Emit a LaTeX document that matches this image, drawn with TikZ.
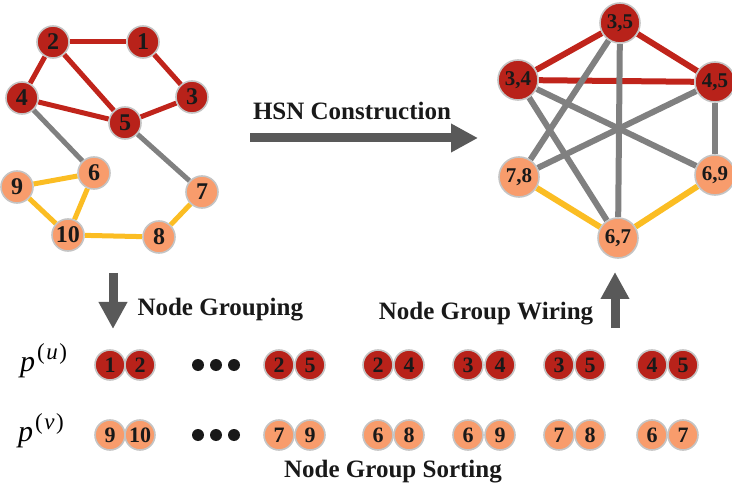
\documentclass[tikz,border=0pt]{standalone}
\usepackage{fontspec}
\setmainfont{Liberation Serif}
\usetikzlibrary{arrows.meta,backgrounds}
\definecolor{nodered}{HTML}{B8221A}
\definecolor{nodeorange}{HTML}{F89C6C}
\definecolor{ringgray}{HTML}{C4C4C4}
\definecolor{edgered}{HTML}{C0241B}
\definecolor{edgegray}{HTML}{808080}
\definecolor{edgeyellow}{HTML}{FBBD23}
\definecolor{arrowgray}{HTML}{595959}
% italic symbol with a parenthesised superscript
\newcommand{\grpsym}[2]{\fontsize{30}{30}\selectfont\textit{#1}\kern2pt\raisebox{12pt}{\fontsize{23}{23}\selectfont(\kern1.5pt\textit{#2}\kern1.5pt)}}
\begin{document}
\begin{tikzpicture}[x=1pt,y=-1pt,
  vtx/.style={circle,inner sep=0pt,draw=ringgray,line width=1.6pt,
    font=\fontsize{24}{24}\selectfont\bfseries,text=black!90},
  small/.style={vtx,minimum size=32pt},
  big/.style={vtx,minimum size=40pt,font=\fontsize{21}{21}\selectfont\bfseries},
  pairc/.style={vtx,minimum size=30pt,font=\fontsize{22}{22}\selectfont\bfseries},
  red/.style={fill=nodered},
  org/.style={fill=nodeorange},
  er/.style={draw=edgered,line width=5pt},
  eg/.style={draw=edgegray,line width=5pt},
  ey/.style={draw=edgeyellow,line width=5pt},
  wide/.style={line width=6pt},
  blockarrow/.style={draw=arrowgray,line width=9pt,
    -{Triangle[length=27pt,width=27pt]}},
  lbl/.style={font=\fontsize{25}{30}\selectfont\bfseries,text=black!90},
  dot/.style={circle,fill=black!90,inner sep=0pt,minimum size=12pt}]
\useasboundingbox (0,0) rectangle (732,492);

% ---- original graph ----
\node[small,red] (n2) at (53,42) {2};
\node[small,red] (n1) at (143,42) {1};
\node[small,red] (n4) at (22,98) {4};
\node[small,red] (n3) at (192,97) {3};
\node[small,red] (n5) at (125,123) {5};
\node[small,org] (n6) at (94,173) {6};
\node[small,org] (n9) at (17,187) {9};
\node[small,org] (n7) at (202,192) {7};
\node[small,org] (n10) at (68,235) {10};
\node[small,org] (n8) at (159,237) {8};

% ---- hyper-node graph ----
\node[big,red] (h35) at (620,23) {3,5};
\node[big,red] (h34) at (518,80) {3,4};
\node[big,red] (h45) at (715,82) {4,5};
\node[big,org] (h78) at (519,177) {7,8};
\node[big,org] (h69) at (715,175) {6,9};
\node[big,org] (h67) at (618,238) {6,7};

% ---- edges (drawn behind the vertices) ----
\begin{scope}[on background layer]
\path[er] (n2) -- (n1);
\path[er] (n1) -- (n3);
\path[er] (n2) -- (n4);
\path[er] (n2) -- (n5);
\path[er] (n4) -- (n5);
\path[er] (n5) -- (n3);
\path[eg] (n4) -- (n6);
\path[eg] (n5) -- (n7);
\path[ey] (n9) -- (n6);
\path[ey] (n9) -- (n10);
\path[ey] (n6) -- (n10);
\path[ey] (n10) -- (n8);
\path[ey] (n8) -- (n7);

\path[er,wide] (h35) -- (h34);
\path[er,wide] (h35) -- (h45);
\path[er,wide] (h34) -- (h45);
\path[eg,wide] (h35) -- (h78);
\path[eg,wide] (h35) -- (h67);
\path[eg,wide] (h34) -- (h67);
\path[eg,wide] (h34) -- (h69);
\path[eg,wide] (h45) -- (h78);
\path[eg,wide] (h45) -- (h69);
\path[ey,wide] (h78) -- (h67);
\path[ey,wide] (h69) -- (h67);
\end{scope}

% ---- process arrows and captions ----
\coordinate (hsnA) at (250,138);
\coordinate (hsnB) at (478,138);
\draw[blockarrow] (hsnA) -- (hsnB);
\node[lbl] (hsn) at (352,111) {HSN Construction};

\coordinate (grpA) at (113,273);
\coordinate (grpB) at (113,329);
\draw[blockarrow] (grpA) -- (grpB);
\node[lbl,anchor=west] (grp) at (134,310) {Node Grouping};

\coordinate (wirA) at (615,328);
\coordinate (wirB) at (615,272);
\draw[blockarrow] (wirA) -- (wirB);
\node[lbl] (wir) at (486,314) {Node Group Wiring};

\node[lbl] (srt) at (393,472) {Node Group Sorting};

% ---- grouped node pairs ----
\node[inner sep=0pt,anchor=base west] (pu) at (20,371) {\grpsym{p}{u}};
\node[inner sep=0pt,anchor=base west] (pv) at (18,441) {\grpsym{p}{v}};

\node[dot] (du1) at (198,365) {};
\node[dot] (du2) at (216,365) {};
\node[dot] (du3) at (234,365) {};
\node[dot] (dv1) at (198,435) {};
\node[dot] (dv2) at (216,435) {};
\node[dot] (dv3) at (234,435) {};

\foreach \xa/\xb/\la/\lb/\lc/\ld [count=\i] in
  {110/140/1/2/9/10, 279/310/2/5/7/9, 378/409/2/4/6/8,
   468/500/3/4/6/9, 559/590/3/5/7/8, 652/683/4/5/6/7}{
  \node[pairc,red] (ua\i) at (\xa,365) {\la};
  \node[pairc,red] (ub\i) at (\xb,365) {\lb};
  \node[pairc,org] (va\i) at (\xa,435) {\lc};
  \node[pairc,org] (vb\i) at (\xb,435) {\ld};
}
\end{tikzpicture}
\end{document}
